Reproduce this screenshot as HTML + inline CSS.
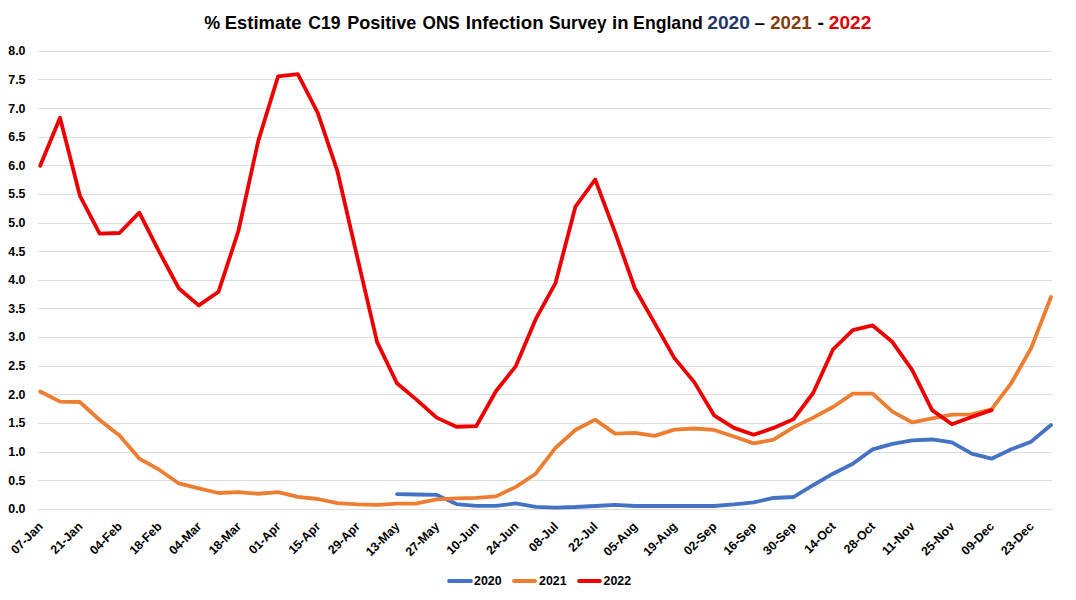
<!DOCTYPE html>
<html><head><meta charset="utf-8"><style>
html,body{margin:0;padding:0;background:#fff;}
body{width:1076px;height:600px;overflow:hidden;}
svg{display:block;font-family:"Liberation Sans",sans-serif;font-weight:bold;}
</style></head><body>
<svg width="1076" height="600" viewBox="0 0 1076 600">
<rect width="1076" height="600" fill="#fff"/>
<g font-size="18.5"><text transform="translate(204.22,29.3) scale(0.9677,1)" fill="#000">%</text><text transform="translate(224.75,29.3) scale(0.9967,1)" fill="#000">Estimate</text><text transform="translate(308.29,29.3) scale(0.9477,1)" fill="#000">C19</text><text transform="translate(347.18,29.3) scale(0.9768,1)" fill="#000">Positive</text><text transform="translate(422.60,29.3) scale(0.9273,1)" fill="#000">ONS</text><text transform="translate(465.74,29.3) scale(1.0100,1)" fill="#000">Infection</text><text transform="translate(549.03,29.3) scale(0.9328,1)" fill="#000">Survey</text><text transform="translate(612.05,29.3) scale(1.0000,1)" fill="#000">in</text><text transform="translate(633.11,29.3) scale(0.9546,1)" fill="#000">England</text><text transform="translate(707.22,29.3) scale(1.0390,1)" fill="#1F3864">2020</text><text transform="translate(754.49,29.3) scale(1.0162,1)" fill="#000">–</text><text transform="translate(770.25,29.3) scale(1.0050,1)" fill="#843C0C">2021</text><text transform="translate(817.61,29.3) scale(1.0526,1)" fill="#000">-</text><text transform="translate(828.83,29.3) scale(1.0314,1)" fill="#E00000">2022</text></g>
<g stroke="#DDDDDD" stroke-width="1">
<line x1="38.4" y1="509.5" x2="1052.0" y2="509.5"/>
<line x1="38.4" y1="480.5" x2="1052.0" y2="480.5"/>
<line x1="38.4" y1="452.5" x2="1052.0" y2="452.5"/>
<line x1="38.4" y1="423.5" x2="1052.0" y2="423.5"/>
<line x1="38.4" y1="394.5" x2="1052.0" y2="394.5"/>
<line x1="38.4" y1="366.5" x2="1052.0" y2="366.5"/>
<line x1="38.4" y1="337.5" x2="1052.0" y2="337.5"/>
<line x1="38.4" y1="308.5" x2="1052.0" y2="308.5"/>
<line x1="38.4" y1="280.5" x2="1052.0" y2="280.5"/>
<line x1="38.4" y1="251.5" x2="1052.0" y2="251.5"/>
<line x1="38.4" y1="223.5" x2="1052.0" y2="223.5"/>
<line x1="38.4" y1="194.5" x2="1052.0" y2="194.5"/>
<line x1="38.4" y1="165.5" x2="1052.0" y2="165.5"/>
<line x1="38.4" y1="137.5" x2="1052.0" y2="137.5"/>
<line x1="38.4" y1="108.5" x2="1052.0" y2="108.5"/>
<line x1="38.4" y1="79.5" x2="1052.0" y2="79.5"/>
<line x1="38.4" y1="51.5" x2="1052.0" y2="51.5"/>
</g>
<g font-size="12.4" text-anchor="end" fill="#000">
<text x="25.5" y="513.20">0.0</text>
<text x="25.5" y="484.58">0.5</text>
<text x="25.5" y="455.96">1.0</text>
<text x="25.5" y="427.34">1.5</text>
<text x="25.5" y="398.72">2.0</text>
<text x="25.5" y="370.10">2.5</text>
<text x="25.5" y="341.48">3.0</text>
<text x="25.5" y="312.86">3.5</text>
<text x="25.5" y="284.24">4.0</text>
<text x="25.5" y="255.62">4.5</text>
<text x="25.5" y="227.00">5.0</text>
<text x="25.5" y="198.38">5.5</text>
<text x="25.5" y="169.76">6.0</text>
<text x="25.5" y="141.14">6.5</text>
<text x="25.5" y="112.52">7.0</text>
<text x="25.5" y="83.90">7.5</text>
<text x="25.5" y="55.28">8.0</text>
</g>
<g font-size="12.35" text-anchor="end" fill="#000">
<text transform="translate(43.60,527.2) rotate(-45)">07-Jan</text>
<text transform="translate(83.24,527.2) rotate(-45)">21-Jan</text>
<text transform="translate(122.88,527.2) rotate(-45)">04-Feb</text>
<text transform="translate(162.52,527.2) rotate(-45)">18-Feb</text>
<text transform="translate(202.16,527.2) rotate(-45)">04-Mar</text>
<text transform="translate(241.80,527.2) rotate(-45)">18-Mar</text>
<text transform="translate(281.44,527.2) rotate(-45)">01-Apr</text>
<text transform="translate(321.07,527.2) rotate(-45)">15-Apr</text>
<text transform="translate(360.71,527.2) rotate(-45)">29-Apr</text>
<text transform="translate(400.35,527.2) rotate(-45)">13-May</text>
<text transform="translate(439.99,527.2) rotate(-45)">27-May</text>
<text transform="translate(479.63,527.2) rotate(-45)">10-Jun</text>
<text transform="translate(519.27,527.2) rotate(-45)">24-Jun</text>
<text transform="translate(558.91,527.2) rotate(-45)">08-Jul</text>
<text transform="translate(598.55,527.2) rotate(-45)">22-Jul</text>
<text transform="translate(638.19,527.2) rotate(-45)">05-Aug</text>
<text transform="translate(677.83,527.2) rotate(-45)">19-Aug</text>
<text transform="translate(717.47,527.2) rotate(-45)">02-Sep</text>
<text transform="translate(757.11,527.2) rotate(-45)">16-Sep</text>
<text transform="translate(796.75,527.2) rotate(-45)">30-Sep</text>
<text transform="translate(836.38,527.2) rotate(-45)">14-Oct</text>
<text transform="translate(876.02,527.2) rotate(-45)">28-Oct</text>
<text transform="translate(915.66,527.2) rotate(-45)">11-Nov</text>
<text transform="translate(955.30,527.2) rotate(-45)">25-Nov</text>
<text transform="translate(994.94,527.2) rotate(-45)">09-Dec</text>
<text transform="translate(1034.58,527.2) rotate(-45)">23-Dec</text>
</g>
<g fill="none" stroke-width="3.8" stroke-linejoin="round" stroke-linecap="round">
<polyline stroke="#4472C4" points="396.95,494.03 416.77,494.49 436.59,494.89 456.41,504.05 476.23,505.88 496.05,505.88 515.87,503.48 535.69,506.91 555.51,507.60 575.33,507.02 595.15,505.99 614.97,504.79 634.79,505.99 654.61,505.99 674.43,505.99 694.25,505.99 714.07,505.99 733.89,504.39 753.71,502.33 773.53,497.98 793.35,497.01 813.16,485.16 832.98,473.71 852.80,463.69 872.62,449.38 892.44,443.95 912.26,440.28 932.08,439.48 951.90,442.40 971.72,453.68 991.54,458.71 1011.36,449.33 1031.18,441.66 1051.00,425.06"/>
<polyline stroke="#ED7D31" points="40.20,391.57 60.02,401.59 79.84,401.99 99.66,420.02 119.48,435.59 139.30,458.54 159.12,469.70 178.94,483.44 198.76,488.31 218.58,493.00 238.40,492.03 258.22,493.75 278.04,492.03 297.85,496.89 317.67,499.01 337.49,503.19 357.31,504.28 377.13,504.79 396.95,503.70 416.77,503.48 436.59,499.47 456.41,498.32 476.23,497.87 496.05,496.38 515.87,486.88 535.69,473.71 555.51,447.95 575.33,429.98 595.15,419.62 614.97,433.64 634.79,432.78 654.61,435.93 674.43,429.64 694.25,428.49 714.07,429.98 733.89,436.51 753.71,443.37 773.53,439.71 793.35,427.35 813.16,417.62 832.98,407.03 852.80,393.58 872.62,393.58 892.44,411.61 912.26,422.48 932.08,418.47 951.90,414.58 971.72,414.41 991.54,409.32 1011.36,382.99 1031.18,348.01 1051.00,297.01"/>
<polyline stroke="#EC0000" points="40.20,165.76 60.02,117.68 79.84,195.52 99.66,233.59 119.48,233.02 139.30,212.70 159.12,251.62 178.94,288.48 198.76,305.43 218.58,291.69 238.40,231.01 258.22,141.15 278.04,76.47 297.85,74.18 317.67,112.53 337.49,171.48 357.31,257.34 377.13,342.06 396.95,383.27 416.77,399.87 436.59,417.62 456.41,426.77 476.23,426.20 496.05,391.00 515.87,366.10 535.69,319.16 555.51,283.10 575.33,206.97 595.15,179.50 614.97,232.16 634.79,288.25 654.61,323.17 674.43,358.09 694.25,382.13 714.07,415.33 733.89,427.92 753.71,434.79 773.53,427.92 793.35,419.33 813.16,393.00 832.98,349.50 852.80,330.04 872.62,325.46 892.44,342.06 912.26,370.11 932.08,410.17 951.90,424.20 971.72,417.04 991.54,410.17"/>
</g>
<g stroke-width="3.8" stroke-linecap="round">
<line x1="449" y1="581" x2="471" y2="581" stroke="#4472C4"/>
<line x1="514" y1="581" x2="535" y2="581" stroke="#ED7D31"/>
<line x1="579" y1="581" x2="600" y2="581" stroke="#EC0000"/>
</g>
<g font-size="12.4" fill="#000">
<text x="474" y="585.3">2020</text>
<text x="539" y="585.3">2021</text>
<text x="603.5" y="585.3">2022</text>
</g>
</svg>
</body></html>
